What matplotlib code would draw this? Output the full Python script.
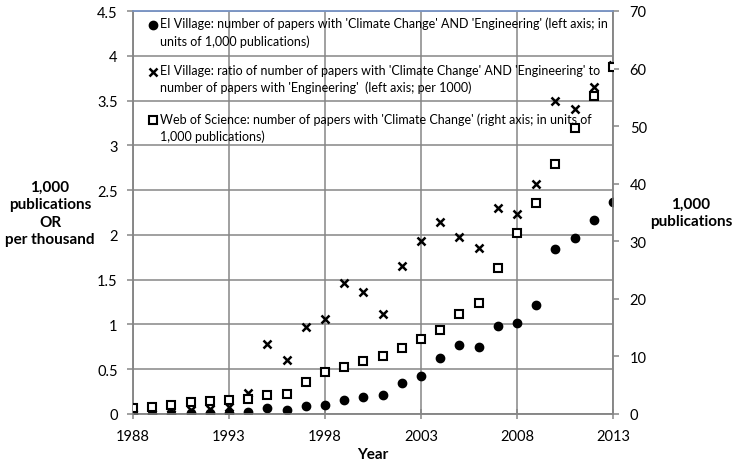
import numpy as np
import matplotlib
matplotlib.use("Agg")
import matplotlib.pyplot as plt
from matplotlib.ticker import MultipleLocator, FuncFormatter

plt.rcParams['font.family'] = ['Lato', 'DejaVu Sans']

# data
years = list(range(1988, 2014))
ei_count = [0.0, 0.0, 0.003, 0.01, 0.01, 0.008, 0.02, 0.066, 0.049, 0.092,
            0.10, 0.157, 0.185, 0.21, 0.348, 0.428, 0.628, 0.766, 0.747, 0.978,
            1.019, 1.22, 1.84, 1.96, 2.17, 2.37]
ei_ratio = [0.0, 0.0, 0.005, 0.04, 0.055, 0.08, 0.235, 0.784, 0.608, 0.974,
            1.056, 1.459, 1.362, 1.116, 1.65, 1.933, 2.141, 1.981, 1.855, 2.30,
            2.234, 2.57, 3.50, 3.41, 3.65, 3.90]
wos_count = [0.98, 1.15, 1.56, 2.13, 2.24, 2.44, 2.55, 3.37, 3.48, 5.5,
             7.26, 8.24, 9.23, 10.16, 11.5, 13.1, 14.6, 17.4, 19.2, 25.3,
             31.5, 36.7, 43.5, 49.6, 55.2, 60.3]
year_ticks = [1988, 1993, 1998, 2003, 2008, 2013]

labels = [
    "EI Village: number of papers with 'Climate Change' AND 'Engineering' (left axis; in\nunits of 1,000 publications)",
    "EI Village: ratio of number of papers with 'Climate Change' AND 'Engineering' to\nnumber of papers with 'Engineering'  (left axis; per 1000)",
    "Web of Science: number of papers with 'Climate Change' (right axis; in units of\n1,000 publications)",
]

grey = '#868686'

fig = plt.figure(figsize=(7.37, 4.64), dpi=100)
ax = fig.add_axes([133 / 737, 1 - 415 / 464, 480 / 737, 403 / 464])
ax2 = ax.twinx()

styles = [
    dict(marker='o', color='black', markersize=6),
    dict(marker='x', color='black', markersize=6, markeredgewidth=1.8),
    dict(marker='s', markerfacecolor='white', markeredgecolor='black',
         markersize=6, markeredgewidth=1.5),
]

ax.plot(years, ei_count, linestyle='none', zorder=3, **styles[0])
ax.plot(years, ei_ratio, linestyle='none', zorder=3, **styles[1])
ax2.plot(years, wos_count, linestyle='none', zorder=3, **styles[2])

ax.set_xlim(1988, 2013)
ax.set_ylim(0, 4.5)
ax2.set_ylim(0, 70)
ax.set_xticks(year_ticks)
ax.yaxis.set_major_locator(MultipleLocator(0.5))
ax2.yaxis.set_major_locator(MultipleLocator(10))
ax.yaxis.set_major_formatter(FuncFormatter(lambda v, p: '%g' % v))

ax.grid(True, color=grey, linewidth=1.1)
ax.set_axisbelow(True)

for a in (ax, ax2):
    for side in ('left', 'right', 'bottom'):
        a.spines[side].set_color(grey)
        a.spines[side].set_linewidth(1.1)
    a.spines['top'].set_color('#7a95c4')
    a.spines['top'].set_linewidth(1.1)

ax.tick_params(axis='x', direction='inout', length=7, width=1.1, color=grey,
               labelsize=10.5, pad=7)
ax.tick_params(axis='y', direction='out', length=4, width=1.1, color=grey,
               labelsize=10.5, pad=7)
ax2.tick_params(axis='y', direction='out', length=4, width=1.1, color=grey,
                labelsize=10.5, pad=8)

fig.text(50 / 737, 1 - 214 / 464, "1,000\npublications\nOR\nper thousand",
         ha='center', va='center', fontsize=11, fontweight='bold', linespacing=1.3)
fig.text(691 / 737, 1 - 213 / 464, "1,000\npublications",
         ha='center', va='center', fontsize=11, fontweight='bold', linespacing=1.3)
fig.text(373 / 737, 1 - 455 / 464, "Year", ha='center', va='center',
         fontsize=11, fontweight='bold')

# legend block (marker on the first line of each entry, like the Excel original)
key_rows = [25.7, 72.7, 121.0]   # pixel rows of each entry's first line
for lab, st, row in zip(labels, styles, key_rows):
    yf = 1 - (row - 12) / 403
    ax2.plot([(152.7 - 133) / 480], [yf], transform=ax2.transAxes,
             clip_on=False, linestyle='none', zorder=4, **st)
    ax2.text((160 - 133) / 480, 1 - (row - 8 - 12) / 403, lab,
             transform=ax2.transAxes, fontsize=9.0, va='top', ha='left',
             linespacing=1.45)

fig.savefig("out.png", dpi=100)
